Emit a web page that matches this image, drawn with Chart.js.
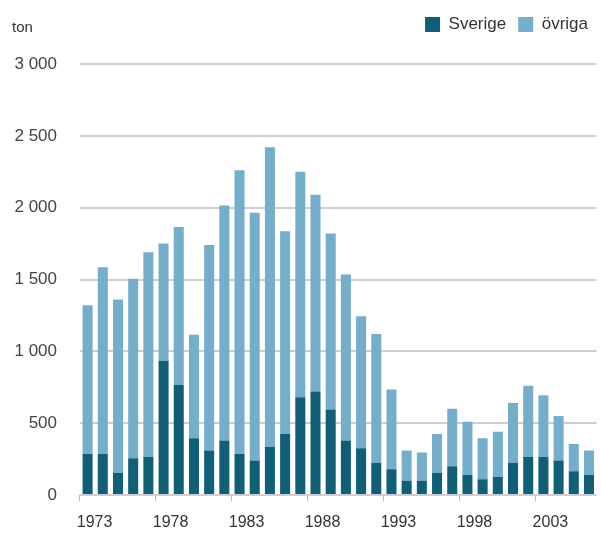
<!DOCTYPE html>
<html>
<head>
<meta charset="utf-8">
<script src="https://cdn.jsdelivr.net/npm/chart.js@4"></script>
<style>
  html, body { margin: 0; padding: 0; background: #fff; }
  #wrap { width: 601px; height: 536px; }
</style>
</head>
<body>
<div id="wrap"><canvas id="catchChart"></canvas></div>
<script>
// Yearly catch in tonnes, 1973-2006
const years = [1973, 1974, 1975, 1976, 1977, 1978, 1979, 1980, 1981, 1982,
               1983, 1984, 1985, 1986, 1987, 1988, 1989, 1990, 1991, 1992,
               1993, 1994, 1995, 1996, 1997, 1998, 1999, 2000, 2001, 2002,
               2003, 2004, 2005, 2006];
const sverige = [285, 285, 155, 255, 265, 935, 765, 395, 310, 380,
                 285, 240, 335, 425, 680, 720, 595, 380, 325, 225,
                 180, 100, 100, 155, 200, 140, 110, 125, 225, 265,
                 265, 240, 165, 140];
const ovriga = [1035, 1300, 1205, 1250, 1425, 815, 1100, 720, 1430, 1635,
                1975, 1725, 2085, 1410, 1570, 1370, 1225, 1155, 920, 895,
                555, 210, 195, 270, 400, 370, 285, 315, 415, 495,
                430, 310, 190, 170];
const yTicks = [0, 500, 1000, 1500, 2000, 2500, 3000];

const darkBlue = '#105f77';
const lightBlue = '#74aecb';
const textColor = '#333';
const font = { family: '"Liberation Sans", Arial, sans-serif', size: 16 };

// "ton" unit label above the y axis, plus extra room under the legend
const unitLabel = {
    id: 'unitLabel',
    beforeInit(chart) {
        const legend = chart.legend;
        if (!legend) return;
        const fit = legend.fit;
        legend.fit = function () {
            fit.call(this);
            this.height += 21;
        };
    },
    afterDraw(chart) {
        const ctx = chart.ctx;
        ctx.save();
        ctx.font = '15px "Liberation Sans", Arial, sans-serif';
        ctx.fillStyle = textColor;
        ctx.textBaseline = 'middle';
        ctx.fillText('ton', 12, 28);
        ctx.restore();
    }
};

function spaced(v) {
    return String(v).replace(/\B(?=(\d{3})+(?!\d))/g, ' ');
}

new Chart(document.getElementById('catchChart'), {
    type: 'bar',
    data: {
        labels: years.map(String),
        datasets: [{
            label: 'Sverige',
            data: sverige,
            backgroundColor: darkBlue,
            barPercentage: 0.66,
            categoryPercentage: 1
        }, {
            label: 'övriga',
            data: ovriga,
            backgroundColor: lightBlue,
            barPercentage: 0.66,
            categoryPercentage: 1
        }]
    },
    options: {
        responsive: true,
        maintainAspectRatio: false,
        animation: false,
        layout: { padding: { left: 0, right: 1, top: 4, bottom: 0 } },
        plugins: {
            legend: {
                position: 'top',
                align: 'end',
                labels: {
                    boxWidth: 15,
                    boxHeight: 15,
                    padding: 12,
                    color: textColor,
                    font: { family: font.family, size: 17 }
                }
            },
            tooltip: { enabled: false }
        },
        scales: {
            x: {
                stacked: true,
                afterFit: scale => { scale.height = 41; },
                border: { display: false },
                grid: {
                    drawOnChartArea: false,
                    tickLength: 6,
                    color: ctx => ctx.index % 5 === 0 ? '#b8b8b8' : 'rgba(0,0,0,0)'
                },
                ticks: {
                    autoSkip: false,
                    maxRotation: 0,
                    padding: 12,
                    labelOffset: 7,
                    color: textColor,
                    font: font,
                    callback: (v, i) => i % 5 === 0 ? years[i] : ''
                }
            },
            y: {
                stacked: true,
                min: 0,
                max: 3000,
                afterBuildTicks: scale => {
                    scale.ticks = yTicks.map(v => ({ value: v }));
                },
                afterFit: scale => { scale.width = 80; },
                border: { display: false },
                grid: {
                    drawTicks: false,
                    color: '#cfcfcf',
                    lineWidth: 2
                },
                ticks: {
                    padding: 23,
                    color: '#444',
                    font: { family: font.family, size: 17 },
                    callback: v => spaced(v)
                }
            }
        }
    },
    plugins: [unitLabel]
});
</script>
</body>
</html>
